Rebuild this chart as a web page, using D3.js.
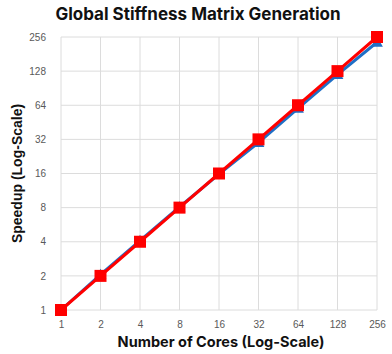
<!DOCTYPE html>
<html>
<head>
<meta charset="utf-8">
<script src="https://cdn.jsdelivr.net/npm/d3@7"></script>
<style>
body { margin: 0; background: #fff; }
svg { display: block; }
</style>
</head>
<body>
<div id="chart"></div>
<script>
var cores = [1, 2, 4, 8, 16, 32, 64, 128, 256];
var idealSpeedup = [1, 2, 4, 8, 16, 32, 64, 128, 256];
var measuredSpeedup = [1, 2.05, 4.1, 8.1, 15.8, 30, 60, 119, 230];
var yTicks = [1, 2, 4, 8, 16, 32, 64, 128, 256];

var W = 392, H = 354;
var margin = {top: 37, right: 15, bottom: 44, left: 61};

var svg = d3.select("#chart").append("svg")
	.attr("width", W)
	.attr("height", H);

var x = d3.scaleLog().base(2).domain([1, 256]).range([margin.left, W - margin.right]);
var y = d3.scaleLog().base(2).domain([1, 256]).range([H - margin.bottom, margin.top]);

// grid
svg.append("g").selectAll("line.v")
	.data(cores).enter().append("line")
	.attr("x1", function(d) { return x(d); })
	.attr("x2", function(d) { return x(d); })
	.attr("y1", y(1)).attr("y2", y(256))
	.attr("stroke", "#dcdcdc").attr("stroke-width", 1);

svg.append("g").selectAll("line.h")
	.data(yTicks).enter().append("line")
	.attr("x1", x(1)).attr("x2", x(256))
	.attr("y1", function(d) { return y(d); })
	.attr("y2", function(d) { return y(d); })
	.attr("stroke", "#dcdcdc").attr("stroke-width", 1);

// tick labels
var xAxis = svg.append("g")
	.attr("transform", "translate(0," + (y(1) + 8) + ")")
	.call(d3.axisBottom(x).tickValues(cores).tickFormat(d3.format("d")).tickSize(0));
xAxis.select(".domain").remove();
xAxis.selectAll("text").attr("fill", "#595959").attr("font-size", 10)
	.attr("font-family", "Liberation Sans, Arial, sans-serif");

var yAxis = svg.append("g")
	.attr("transform", "translate(" + (x(1) - 12) + ",0)")
	.call(d3.axisLeft(y).tickValues(yTicks).tickFormat(d3.format("d")).tickSize(0));
yAxis.select(".domain").remove();
yAxis.selectAll("text").attr("fill", "#595959").attr("font-size", 10)
	.attr("font-family", "Liberation Sans, Arial, sans-serif");

// lines
var measured = cores.map(function(c, i) { return {c: c, v: measuredSpeedup[i]}; });
var ideal = cores.map(function(c, i) { return {c: c, v: idealSpeedup[i]}; });

var line = d3.line()
	.x(function(d) { return x(d.c); })
	.y(function(d) { return y(d.v); });

svg.append("path").datum(measured)
	.attr("d", line)
	.attr("fill", "none")
	.attr("stroke", "#1f6fc6")
	.attr("stroke-width", 3);

svg.append("g").selectAll("path")
	.data(measured).enter().append("path")
	.attr("d", d3.symbol().type(d3.symbolTriangle).size(60))
	.attr("transform", function(d) { return "translate(" + x(d.c) + "," + (y(d.v) + 1) + ")"; })
	.attr("fill", "#1f6fc6");

svg.append("path").datum(ideal)
	.attr("d", line)
	.attr("fill", "none")
	.attr("stroke", "#ff0000")
	.attr("stroke-width", 3);

svg.append("g").selectAll("rect")
	.data(ideal).enter().append("rect")
	.attr("x", function(d) { return x(d.c) - 6; })
	.attr("y", function(d) { return y(d.v) - 6; })
	.attr("width", 12).attr("height", 12)
	.attr("fill", "#ff0000");

// titles
svg.append("text")
	.attr("x", 198).attr("y", 20)
	.attr("text-anchor", "middle")
	.attr("font-family", "Inter, sans-serif")
	.attr("font-weight", "bold")
	.attr("font-size", 17)
	.attr("fill", "#111")
	.text("Global Stiffness Matrix Generation");

svg.append("text")
	.attr("x", 221).attr("y", 347)
	.attr("text-anchor", "middle")
	.attr("font-family", "Inter, sans-serif")
	.attr("font-weight", "bold")
	.attr("font-size", 14.5)
	.attr("fill", "#111")
	.text("Number of Cores (Log-Scale)");

svg.append("text")
	.attr("transform", "translate(22," + ((y(1) + y(256)) / 2) + ") rotate(-90)")
	.attr("text-anchor", "middle")
	.attr("font-family", "Liberation Sans, Arial, sans-serif")
	.attr("font-weight", "bold")
	.attr("font-size", 14)
	.attr("fill", "#111")
	.text("Speedup (Log-Scale)");
</script>
</body>
</html>
